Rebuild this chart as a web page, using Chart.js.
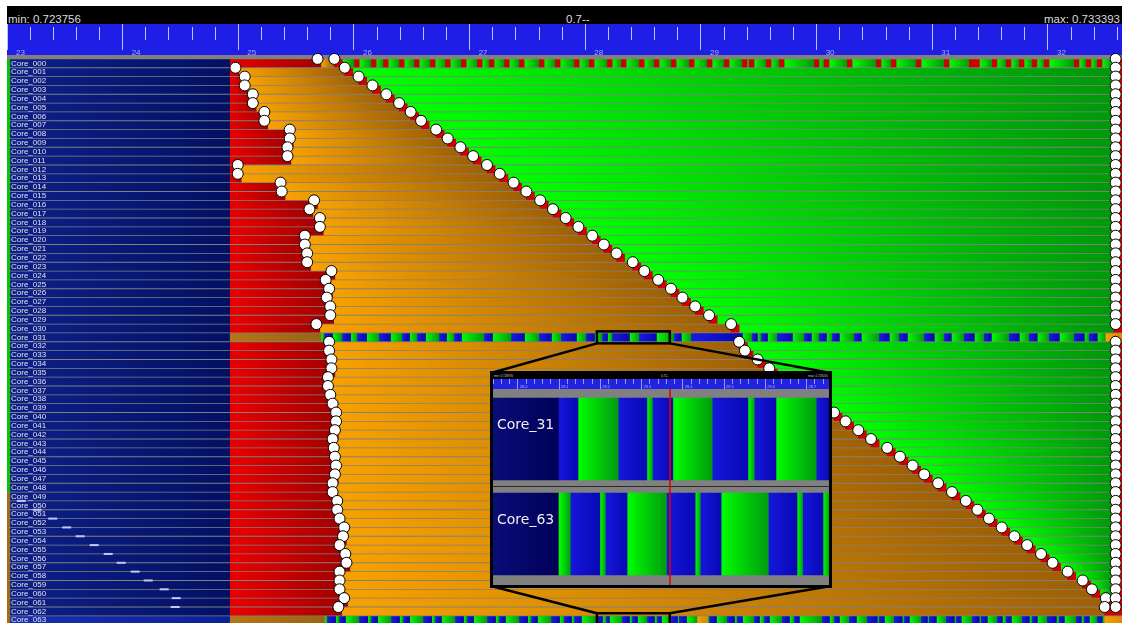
<!DOCTYPE html>
<html>
<head>
<meta charset="utf-8">
<script src="https://cdn.jsdelivr.net/npm/chart.js@4.4.1/dist/chart.umd.min.js"></script>
<style>
html, body { margin: 0; padding: 0; background: #fff; width: 1122px; height: 623px; overflow: hidden; }
#head { position: absolute; left: 7px; top: 6px; width: 1115px; height: 18px; background: #000; overflow: hidden;
        font-family: "Liberation Sans", Arial, sans-serif; font-size: 11.5px; color: #dcdcdc; }
#head span { position: absolute; top: 4px; line-height: 18px; white-space: nowrap; }
#main { position: absolute; left: 7px; top: 24px; }
#inset { position: absolute; left: 490px; top: 371px; width: 336px; height: 211px; border: 3px solid #000; background: #808080; }
#inhead { position: relative; height: 5px; background: #000; overflow: hidden;
          font-family: "Liberation Sans", Arial, sans-serif; font-size: 3px; color: #c8c8c8; }
#inhead span { position: absolute; top: 0; line-height: 5px; white-space: nowrap; }
#insetCanvas { display: block; }
</style>
</head>
<body>
<div id="head">
  <span style="left:1px">min: 0.723756</span>
  <span style="left:559px">0.7--</span>
  <span style="right:2px">max: 0.733393</span>
</div>
<canvas id="main" width="1115" height="602"></canvas>
<div id="inset">
  <div id="inhead">
    <span style="left:1px">min: 0.728976</span>
    <span style="left:168px">0.72--</span>
    <span style="right:1px">max: 0.729201</span>
  </div>
  <canvas id="insetCanvas" width="336" height="206"></canvas>
</div>
<script>
// --- veriler ---
const cores = Array.from({ length: 64 }, (_, i) => 'Core_' + String(i).padStart(3, '0'));

const viewMin = 23, viewMax = 32.64;
const stripEnd = 23.03;     // sol kenardaki ince şerit
const navyEnd = 24.93;      // lacivert bölüm sonu
const runEnd = 32.56;       // yeşil bölüm sonu
const endMark = 32.585;     // sağdaki olay işaretleri

// kırmızı bölüm sonu (31 ve 63 özel satırlar)
const redEnd = [
  25.72, 25.01, 25.09, 25.09, 25.16, 25.16, 25.26, 25.26, 25.48, 25.48,
  25.46, 25.46, 25.03, 25.03, 25.40, 25.41, 25.69, 25.65, 25.74, 25.74,
  25.61, 25.61, 25.63, 25.63, 25.84, 25.79, 25.82, 25.80, 25.83, 25.83,
  25.71, null, 25.82, 25.82, 25.84, 25.84, 25.81, 25.81, 25.83, 25.85,
  25.88, 25.88, 25.87, 25.85, 25.86, 25.87, 25.88, 25.87, 25.85, 25.85,
  25.89, 25.89, 25.91, 25.95, 25.94, 25.91, 25.96, 25.97, 25.91, 25.91,
  25.91, 25.95, 25.90, null
];

// turuncu -> yeşil geçişi (köşegen)
const greenStart = [
  25.83, 25.92, 26.04, 26.16, 26.28, 26.39, 26.49, 26.58, 26.71, 26.81,
  26.92, 27.03, 27.15, 27.26, 27.38, 27.49, 27.61, 27.72, 27.83, 27.94,
  28.06, 28.16, 28.27, 28.41, 28.51, 28.63, 28.74, 28.84, 28.95, 29.07,
  29.26, null, 29.33, 29.38, 29.49, 29.59, 29.70, 29.82, 29.93, 30.04,
  30.15, 30.25, 30.36, 30.47, 30.61, 30.72, 30.83, 30.93, 31.05, 31.17,
  31.29, 31.39, 31.49, 31.60, 31.71, 31.82, 31.94, 32.04, 32.17, 32.30,
  32.38, 32.50, 32.49, null
];

// Core_000 üzerindeki kırmızı çizgiler
const row0Red = [
  [26.005, 26.045], [26.152, 26.192], [26.256, 26.296], [26.394, 26.434], [26.524, 26.564],
  [26.662, 26.702], [26.792, 26.832], [26.930, 26.970], [27.068, 27.108], [27.172, 27.212],
  [27.302, 27.342], [27.431, 27.471], [27.604, 27.644], [27.742, 27.782], [27.907, 27.947],
  [28.036, 28.076], [28.192, 28.232], [28.313, 28.353], [28.469, 28.509], [28.598, 28.638],
  [28.745, 28.785], [28.901, 28.941], [29.056, 29.096], [29.203, 29.243], [29.359, 29.399],
  [29.419, 29.459], [29.566, 29.606], [29.679, 29.719], [29.981, 30.021], [30.067, 30.107],
  [30.266, 30.306], [30.517, 30.557], [30.647, 30.687], [30.863, 30.903], [31.105, 31.145],
  [31.321, 31.407], [31.519, 31.559], [31.640, 31.680], [31.753, 31.793], [31.865, 31.905],
  [31.969, 32.009], [32.228, 32.268], [32.332, 32.372], [32.427, 32.467]
];

// Core_031 ve Core_063 mavi bloklar
const row31Blue = [
  [25.746, 25.815], [25.901, 25.971], [26.031, 26.109], [26.221, 26.316], [26.420, 26.481],
  [26.550, 26.619], [26.740, 26.800], [26.870, 26.930], [27.129, 27.198], [27.362, 27.475],
  [27.604, 27.708], [27.794, 27.924], [28.010, 28.080], [28.149, 28.192], [28.235, 28.382],
  [28.469, 28.615], [28.771, 28.831], [28.918, 29.359], [29.445, 29.488], [29.523, 29.575],
  [29.661, 29.791], [29.895, 29.955], [30.024, 30.085], [30.137, 30.197], [30.327, 30.387],
  [30.543, 30.629], [30.716, 30.785], [30.932, 31.018], [31.105, 31.165], [31.277, 31.364],
  [31.450, 31.511], [31.666, 31.753], [31.839, 31.908], [32.012, 32.099], [32.228, 32.315],
  [32.358, 32.427]
];
const row63Blue = [
  [25.772, 25.841], [25.876, 25.927], [26.048, 26.118], [26.152, 26.204], [26.325, 26.394],
  [26.429, 26.481], [26.602, 26.671], [26.705, 26.757], [26.878, 26.947], [26.982, 27.034],
  [27.155, 27.224], [27.259, 27.310], [27.431, 27.501], [27.535, 27.587], [27.708, 27.777],
  [27.820, 27.881], [27.907, 27.967], [28.097, 28.149], [28.183, 28.209], [28.322, 28.382],
  [28.408, 28.451], [28.538, 28.598], [28.624, 28.659], [28.745, 28.797], [28.814, 28.875],
  [29.074, 29.134], [29.229, 29.290], [29.315, 29.359], [29.462, 29.506], [29.549, 29.592],
  [29.704, 29.765], [29.808, 29.851], [30.050, 30.111], [30.154, 30.197], [30.284, 30.344],
  [30.439, 30.525], [30.543, 30.586], [30.672, 30.741], [30.759, 30.802], [30.906, 30.958],
  [30.975, 31.035], [31.122, 31.191], [31.208, 31.251], [31.347, 31.407], [31.424, 31.476],
  [31.563, 31.606], [31.640, 31.684], [31.779, 31.839], [31.865, 31.908], [31.995, 32.073],
  [32.099, 32.142], [32.246, 32.289], [32.315, 32.358], [32.427, 32.470]
];
const row63Orange = [[28.970, 29.056]];
const burstRows = [31, 63];
const burstStart = [25.72, 25.75];   // kahverengi bölüm sonu
const burstTail = [32.50, 32.49];    // sondaki turuncu
const burstBlue = [row31Blue, row63Blue];
const burstOrange = [[], row63Orange];

// lacivert içindeki küçük beyaz işaretler
const markRows = [50, 51, 52, 53, 54, 55, 56, 57, 58, 59, 60, 61, 62];
const markX = [23.123, 23.261, 23.395, 23.516, 23.633, 23.754, 23.875, 23.987, 24.108, 24.221, 24.359, 24.463, 24.454];

// büyütülmüş görünüm (Core_31 / Core_63)
const zoomRange = [28.10, 28.73];
const insetMin = 27.94, insetMax = 28.7545;
const insetRows = ['Core_31', 'Core_63'];
const inset31Blue = [[28.100, 28.146], [28.245, 28.313], [28.328, 28.376], [28.473, 28.558], [28.575, 28.626], [28.725, 28.757]];
const inset31Green = [[28.146, 28.245], [28.313, 28.328], [28.376, 28.473], [28.558, 28.575], [28.626, 28.725]];
const inset63Blue = [[28.129, 28.199], [28.214, 28.265], [28.362, 28.430], [28.444, 28.493], [28.609, 28.677], [28.692, 28.740]];
const inset63Green = [[28.100, 28.129], [28.199, 28.214], [28.265, 28.362], [28.430, 28.444], [28.493, 28.609], [28.677, 28.692], [28.740, 28.757]];
const insetLabelEnd = 28.10;
const cursorAt = 28.369;

// --- yardımcılar ---
Chart.defaults.font.family = "'Liberation Sans', Arial, sans-serif";

const isWhole = (v, step) => Math.abs(v / step - Math.round(v / step)) < 1e-6;

function grad(c0, c1) {
  return (ctx) => {
    const r = ctx.raw;
    if (!r || !ctx.chart.chartArea) return c0;
    const xs = ctx.chart.scales.x;
    const p0 = xs.getPixelForValue(r.x[0]), p1 = xs.getPixelForValue(r.x[1]);
    if (!(p1 > p0)) return c0;
    const g = ctx.chart.ctx.createLinearGradient(p0, 0, p1, 0);
    g.addColorStop(0, c0);
    g.addColorStop(1, c1);
    return g;
  };
}

function gaps(blocks, from, to) {
  const out = [];
  let cur = from;
  blocks.slice().sort((a, b) => a[0] - b[0]).forEach(([s, e]) => {
    if (s > cur) out.push([cur, s]);
    cur = Math.max(cur, e);
  });
  if (to > cur) out.push([cur, to]);
  return out;
}

function bars(label, data, order, color) {
  return { type: 'bar', label, indexAxis: 'y', grouped: false, order, data,
           backgroundColor: color, borderWidth: 0, inflateAmount: 0.33 };
}

const normalRows = cores.map((c, i) => i).filter(i => redEnd[i] != null);

// --- ana grafik için bar verisi ---
const stripData = cores.map((c, i) => ({ x: [viewMin, stripEnd], y: i }));
const navyData = cores.map((c, i) => ({ x: [stripEnd, navyEnd], y: i }));
const redData = normalRows.map(i => ({ x: [navyEnd, redEnd[i]], y: i }));
const orangeData = normalRows.map(i => ({ x: [redEnd[i], greenStart[i]], y: i }));
const blobData = normalRows.map(i => ({ x: [greenStart[i], Math.min(greenStart[i] + 0.07, runEnd + 0.02)], y: i }));
const tailData = normalRows.map(i => ({ x: [runEnd, viewMax], y: i }));

const greenData = [];
normalRows.forEach(i => {
  const from = Math.min(greenStart[i] + 0.07, runEnd);
  const pieces = i === 0 ? gaps(row0Red, from, runEnd) : [[from, runEnd]];
  pieces.forEach(p => { if (p[1] > p[0]) greenData.push({ x: p, y: i }); });
});
const brownData = [], blueBlockData = [], burstOrangeData = [];
burstRows.forEach((row, k) => {
  brownData.push({ x: [navyEnd, burstStart[k]], y: row });
  burstBlue[k].forEach(b => blueBlockData.push({ x: b, y: row }));
  burstOrange[k].forEach(b => burstOrangeData.push({ x: b, y: row }));
  burstOrangeData.push({ x: [burstTail[k], viewMax], y: row });
  gaps(burstBlue[k].concat(burstOrange[k]), burstStart[k], burstTail[k])
    .forEach(p => greenData.push({ x: p, y: row }));
});
const stripeData = row0Red.map(b => ({ x: b, y: 0 }));

const circleData = [];
normalRows.forEach(i => {
  circleData.push({ x: redEnd[i] - 0.035, y: i - 0.5 });
  circleData.push({ x: greenStart[i], y: i - 0.5 });
  circleData.push({ x: endMark, y: i - 0.5 });
});
const markData = markRows.map((r, k) => ({ x: markX[k], y: r - 0.5 }));

// --- eklentiler ---
const areaFill = {
  id: 'areaFill',
  beforeDraw(chart, args, opts) {
    const { ctx, chartArea: a } = chart;
    ctx.save();
    ctx.fillStyle = opts.color || '#808080';
    ctx.fillRect(a.left, a.top, a.width, a.height);
    ctx.restore();
  }
};

// büyüteç kutusu ve bağlantı çizgileri (sayfa koordinatları -> tuval)
const insetBox = { left: 490 - 7, top: 371 - 24, right: 832 - 7, bottom: 588 - 24 };
const callout = {
  id: 'callout',
  afterDatasetsDraw(chart) {
    const { ctx, scales: { x, y } } = chart;
    const x0 = x.getPixelForValue(zoomRange[0]), x1 = x.getPixelForValue(zoomRange[1]);
    const yA = y.getPixelForValue(burstRows[0]), yB = y.getPixelForValue(burstRows[1]);
    ctx.save();
    ctx.strokeStyle = '#000';
    ctx.lineWidth = 2.5;
    ctx.strokeRect(x0, yA - 6, x1 - x0, 12);
    ctx.strokeRect(x0, yB - 7, x1 - x0, 16);
    ctx.beginPath();
    ctx.moveTo(x0, yA + 6); ctx.lineTo(insetBox.left + 1, insetBox.top + 2);
    ctx.moveTo(x1, yA + 6); ctx.lineTo(insetBox.right - 1, insetBox.top + 2);
    ctx.moveTo(insetBox.left + 1, insetBox.bottom - 2); ctx.lineTo(x0, yB - 7);
    ctx.moveTo(insetBox.right - 1, insetBox.bottom - 2); ctx.lineTo(x1, yB - 7);
    ctx.stroke();
    ctx.restore();
  }
};

// --- ana grafik ---
new Chart(document.getElementById('main'), {
  type: 'bar',
  data: {
    datasets: [
      { type: 'scatter', label: 'events', order: 0, data: circleData, clip: false,
        pointRadius: 5.5, pointBackgroundColor: '#ffffff', pointBorderColor: '#000000', pointBorderWidth: 1 },
      { type: 'scatter', label: 'marks', order: 1, data: markData, clip: false,
        pointStyle: 'line', pointRadius: 4.5, pointBorderColor: '#c8c8f0', pointBorderWidth: 2 },
      bars('stripes', stripeData, 2, '#cc0000'),
      bars('blocks', blueBlockData, 2, grad('#1a1ae0', '#0606b0')),
      bars('burst orange', burstOrangeData, 2, grad('#f4a000', '#d88a00')),
      bars('blob', blobData, 3, '#d40000'),
      bars('green', greenData, 4, grad('#00ff00', '#00980a')),
      bars('orange', orangeData, 4, grad('#f7a100', '#9e6006')),
      bars('red', redData, 4, grad('#e80000', '#a00000')),
      bars('tail', tailData, 4, '#d00000'),
      bars('brown', brownData, 4, grad('#b47616', '#9a6412')),
      bars('navy', navyData, 4, (ctx) => ctx.raw && ctx.raw.y === 63
        ? grad('#1830b0', '#0c2096')(ctx) : grad('#0d2088', '#021064')(ctx)),
      bars('strip', stripData, 4, (ctx) => ctx.raw && ctx.raw.y >= 49 ? '#a46a10' : '#00c800')
    ]
  },
  options: {
    responsive: false,
    animation: false,
    events: [],
    layout: { padding: 0, autoPadding: false },
    datasets: { bar: { categoryPercentage: 1, barPercentage: 0.83 } },
    plugins: { legend: { display: false }, tooltip: { enabled: false }, areaFill: { color: '#808080' } },
    scales: {
      x: {
        type: 'linear', position: 'top', bounds: 'data', min: viewMin, max: viewMax, offset: false,
        backgroundColor: '#1e1ee6',
        border: { display: false },
        grid: {
          offset: false, drawOnChartArea: false, tickLength: 31, color: '#c0c0ff', tickColor: '#c0c0ff', tickWidth: 1,
          tickBorderDash: (c) => c.tick ? (isWhole(c.tick.value, 1) ? [26, 100] : [0, 3, 13, 100]) : []
        },
        ticks: {
          stepSize: 0.2, includeBounds: false, autoSkip: false, maxRotation: 0, minRotation: 0,
          align: 'start', labelOffset: 9, padding: -33.3, color: '#a8b0ff', font: { size: 8 },
          callback: (v) => isWhole(v, 1) ? String(Math.round(v)) : ''
        },
        afterFit: (s) => { s.height = 31; s.paddingLeft = 0; s.paddingRight = 0; }
      },
      y: {
        type: 'linear', reverse: true, bounds: 'data', min: -0.94, max: 63.65, offset: false,
        border: { display: false },
        grid: { offset: false, display: false, drawTicks: false },
        afterBuildTicks: (s) => { s.ticks = cores.map((c, i) => ({ value: i })); },
        ticks: { z: 1, autoSkip: false, mirror: true, padding: 4, color: '#e0e0f0', font: { size: 8 },
                 callback: (v) => cores[v] ?? '' },
        afterFit: (s) => { s.width = 0; s.paddingTop = 0; s.paddingBottom = 0; }
      }
    }
  },
  plugins: [areaFill, callout]
});

// --- büyütülmüş görünüm ---
const insetData = (blocks, row) => blocks.map(b => ({ x: b, y: row }));
new Chart(document.getElementById('insetCanvas'), {
  type: 'bar',
  data: {
    datasets: [
      { type: 'line', label: 'cursor', order: 0, data: [{ x: cursorAt, y: -1 }, { x: cursorAt, y: 2 }],
        borderColor: 'rgba(225,0,0,0.8)', borderWidth: 1, pointRadius: 0 },
      { type: 'line', label: 'separator', order: 1, data: [{ x: insetMin, y: 0.5 }, { x: insetMax, y: 0.5 }],
        borderColor: '#2a2a2a', borderWidth: 1.2, pointRadius: 0 },
      bars('blue', insetData(inset31Blue, 0).concat(insetData(inset63Blue, 1)), 2, grad('#1616dc', '#0808b4')),
      bars('green', insetData(inset31Green, 0).concat(insetData(inset63Green, 1)), 2, grad('#00ff00', '#009a10')),
      bars('label', [0, 1].map(r => ({ x: [insetMin, insetLabelEnd], y: r })), 2, grad('#0a0c78', '#000058'))
    ]
  },
  options: {
    responsive: false,
    animation: false,
    events: [],
    layout: { padding: 0, autoPadding: false },
    datasets: { bar: { categoryPercentage: 1, barPercentage: 0.863 } },
    plugins: { legend: { display: false }, tooltip: { enabled: false }, areaFill: { color: '#808080' } },
    scales: {
      x: {
        type: 'linear', position: 'top', bounds: 'data', min: insetMin, max: insetMax, offset: false,
        backgroundColor: '#2222e2',
        border: { display: false },
        grid: {
          offset: false, drawOnChartArea: false, tickLength: 10, color: '#9c9cf0', tickColor: '#9c9cf0', tickWidth: 1,
          tickBorderDash: (c) => c.tick ? (isWhole(c.tick.value, 0.1) ? [10, 100] : [5, 100]) : []
        },
        ticks: {
          stepSize: 0.02, includeBounds: false, autoSkip: false, maxRotation: 0, minRotation: 0,
          align: 'start', labelOffset: 2, padding: -10.4, color: '#a8b0ff', font: { size: 4 },
          callback: (v) => isWhole(v, 0.1) ? v.toFixed(1) : ''
        },
        afterFit: (s) => { s.height = 10; s.paddingLeft = 0; s.paddingRight = 0; }
      },
      y: {
        type: 'linear', reverse: true, bounds: 'data', min: -0.526, max: 1.537, offset: false,
        border: { display: false },
        grid: { offset: false, display: false, drawTicks: false },
        afterBuildTicks: (s) => { s.ticks = insetRows.map((c, i) => ({ value: i })); },
        ticks: { z: 1, autoSkip: false, mirror: true, padding: 4, labelOffset: -14, color: '#f0f0f0',
                 font: { size: 14, family: "'DejaVu Sans', sans-serif" },
                 callback: (v) => insetRows[v] ?? '' },
        afterFit: (s) => { s.width = 0; s.paddingTop = 0; s.paddingBottom = 0; }
      }
    }
  },
  plugins: [areaFill]
});
</script>
</body>
</html>
